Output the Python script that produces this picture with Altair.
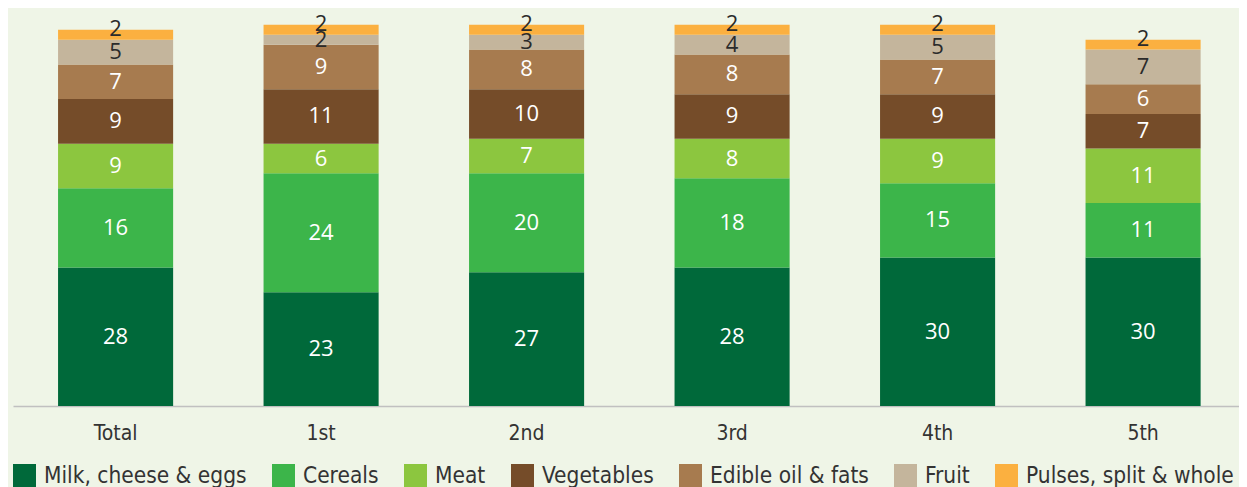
import altair as alt
import pandas as pd

categories = ["Total", "1st", "2nd", "3rd", "4th", "5th"]
series = ["Milk, cheese & eggs", "Cereals", "Meat", "Vegetables",
          "Edible oil & fats", "Fruit", "Pulses, split & whole"]
colors = ["#00693a", "#3cb54a", "#8cc63f", "#754c29", "#a77b4f", "#c4b59c", "#fbb040"]

milk = [28, 23, 27, 28, 30, 30]
cereals = [16, 24, 20, 18, 15, 11]
meat = [9, 6, 7, 8, 9, 11]
vegetables = [9, 11, 10, 9, 9, 7]
oil = [7, 9, 8, 8, 7, 6]
fruit = [5, 2, 3, 4, 5, 7]
pulses = [2, 2, 2, 2, 2, 2]

values = [milk, cereals, meat, vegetables, oil, fruit, pulses]
rows = []
for si, (s, vals) in enumerate(zip(series, values)):
    for c, v in zip(categories, vals):
        rows.append({"cat": c, "series": s, "idx": si, "value": v})
df = pd.DataFrame(rows)

FONT = "Liberation Sans Narrow, DejaVu Sans Condensed, Open Sans, sans-serif"

base = alt.Chart(df)

x = alt.X("cat:N", sort=categories, title=None,
          scale=alt.Scale(paddingInner=0.44, paddingOuter=0.203, align=0.54),
          axis=alt.Axis(labelAngle=0, ticks=False, domainColor="#c0c0c0",
                        domainWidth=1.5, labelFontSize=21, labelFont=FONT,
                        labelColor="#333333", labelPadding=16))
yscale = alt.Scale(domain=[0, 80], nice=False)

bars = base.mark_bar().encode(
    x=x,
    y=alt.Y("value:Q", stack="zero", scale=yscale, axis=None),
    color=alt.Color("series:N", sort=series,
                    scale=alt.Scale(domain=series, range=colors),
                    legend=alt.Legend(orient="none", legendX=0, legendY=454,
                                      direction="horizontal", columns=7,
                                      title=None, symbolType="square",
                                      symbolSize=529, symbolStrokeWidth=0,
                                      symbolOpacity=1,
                                      labelFontSize=22.5, labelFont=FONT,
                                      labelColor="#333333", labelOffset=8,
                                      columnPadding=25, labelLimit=400)),
    order=alt.Order("idx:Q", sort="ascending"),
)

stacked = base.transform_stack(
    stack="value", as_=["y0", "y1"], groupby=["cat"],
    sort=[alt.SortField("idx", order="ascending")]
).transform_calculate(mid="(datum.y0 + datum.y1) / 2")

text_kw = dict(fontSize=22, font="Open Sans", baseline="middle", align="center")

labels_white = stacked.transform_filter("datum.idx <= 4").mark_text(
    color="white", **text_kw).encode(
    x=alt.X("cat:N", sort=categories), y=alt.Y("mid:Q", scale=yscale),
    text="value:Q")
labels_fruit = stacked.transform_filter("datum.idx == 5").mark_text(
    color="#2b2b2b", **text_kw).encode(
    x=alt.X("cat:N", sort=categories), y=alt.Y("mid:Q", scale=yscale),
    text="value:Q")
labels_pulses = stacked.transform_filter("datum.idx == 6").mark_text(
    color="#2b2b2b", dy=-6, **text_kw).encode(
    x=alt.X("cat:N", sort=categories), y=alt.Y("mid:Q", scale=yscale),
    text="value:Q")

chart = alt.layer(bars, labels_white, labels_fruit, labels_pulses).properties(
    width=1226, height=396,
    autosize=alt.AutoSizeParams(type="none"),
    padding={"left": 5, "top": 2, "right": 0, "bottom": 81},
    background="#eff5e7",
).configure_view(stroke=None)

chart.save("out.html", embed_options={"renderer": "svg", "actions": False})
